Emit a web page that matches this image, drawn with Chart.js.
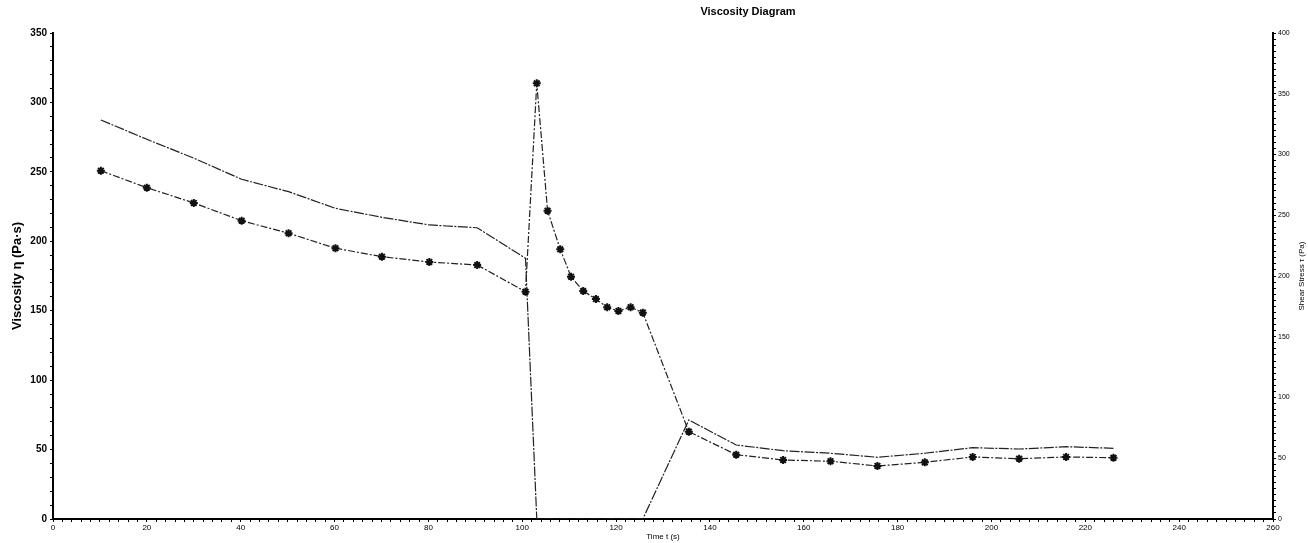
<!DOCTYPE html>
<html>
<head>
<meta charset="utf-8">
<script src="https://cdn.jsdelivr.net/npm/chart.js@4/dist/chart.umd.min.js"></script>
<style>
  html, body { margin: 0; padding: 0; background: #fff; }
  #wrap { width: 1308px; height: 543px; position: relative; }
</style>
</head>
<body>
<div id="wrap"><canvas id="viscosityChart"></canvas></div>
<script>
// values
const timeS = [10.2, 20, 30, 40.2, 50.2, 60.2, 70.1, 80.2, 90.4, 100.7,
  103.1, 105.4, 108.1, 110.4, 113, 115.7, 118.1, 120.5, 123.1, 125.7,
  135.5, 145.6, 155.6, 165.7, 175.7, 185.8, 196, 205.9, 215.9, 226];
const viscosity = [250.8, 238.6, 227.6, 214.8, 205.8, 195, 188.9, 185.1, 182.9, 163.7,
  313.8, 222, 194.2, 174.5, 164.2, 158.4, 152.5, 149.8, 152.5, 148.6,
  62.9, 46.3, 42.5, 41.6, 38.2, 40.8, 44.7, 43.4, 44.7, 44.1];
const shearStress = [328.4, 312.5, 297, 279.6, 269.4, 255.7, 248.3, 242, 239.7, 214.6,
  0, 0, 0, 0, 0, 0, 0, 0, 0, 0,
  81.5, 60.9, 56.2, 54.1, 50.8, 54.1, 58.7, 57.6, 59.5, 58.2];

const chartTitle = "Viscosity Diagram";
const leftTitle = "Viscosity \u03b7 (Pa\u00b7s)";
const rightTitle = "Shear Stress \u03c4 (Pa)";
const xTitle = "Time t (s)";

function toPoints(xs, ys) {
  return xs.map(function (x, i) { return { x: x, y: ys[i] }; });
}

// title is off-centre in the original and the right axis label reads upward
const extraText = {
  id: "extraText",
  afterDraw: function (chart) {
    const ctx = chart.ctx;
    ctx.save();
    ctx.fillStyle = "#000";
    ctx.font = "bold 11px 'Liberation Sans', Arial, sans-serif";
    ctx.textAlign = "center";
    ctx.textBaseline = "middle";
    ctx.fillText(chartTitle, 748, 12);

    const area = chart.chartArea;
    ctx.translate(1302, (area.top + area.bottom) / 2);
    ctx.rotate(-Math.PI / 2);
    ctx.font = "8px 'Liberation Sans', Arial, sans-serif";
    ctx.fillText(rightTitle, 0, 0);
    ctx.restore();
  },
};

const ctx = document.getElementById("viscosityChart").getContext("2d");
const viscosityChart = new Chart(ctx, {
  type: "line",
  data: {
    datasets: [
      {
        label: "Viscosity",
        data: toPoints(timeS, viscosity),
        yAxisID: "y",
        borderColor: "#222",
        borderWidth: 1.2,
        borderDash: [7, 2, 2, 2],
        pointStyle: "star",
        pointRadius: 4,
        pointBorderWidth: 2,
        pointBorderColor: "#111",
        pointBackgroundColor: "#111",
        fill: false,
        tension: 0,
      },
      {
        label: "Shear Stress",
        data: toPoints(timeS, shearStress),
        yAxisID: "y1",
        borderColor: "#222",
        borderWidth: 1.2,
        borderDash: [10, 1.5, 2, 1.5],
        pointRadius: 0,
        fill: false,
        tension: 0,
      },
    ],
  },
  options: {
    responsive: true,
    maintainAspectRatio: false,
    animation: false,
    layout: { padding: { top: 33, left: 0, right: 0, bottom: 0 } },
    plugins: {
      legend: { display: false },
      tooltip: { enabled: false },
      title: { display: false },
    },
    scales: {
      x: {
        type: "linear",
        min: 0,
        max: 260,
        afterFit: function (scale) { scale.height = 24; },
        border: { display: true, color: "#000", width: 2 },
        grid: { drawOnChartArea: false, drawTicks: true, tickLength: 3, color: "#000", tickWidth: 1 },
        ticks: {
          stepSize: 2,
          autoSkip: false,
          maxRotation: 0,
          padding: 1,
          color: "#000",
          font: { size: 8, family: "'Liberation Sans', Arial, sans-serif" },
          callback: function (v) { return v % 20 === 0 ? String(v) : ""; },
        },
        title: {
          display: true,
          text: xTitle,
          color: "#000",
          padding: { top: 0, bottom: 1 },
          font: { size: 8, family: "'Liberation Sans', Arial, sans-serif" },
        },
      },
      y: {
        type: "linear",
        position: "left",
        min: 0,
        max: 350,
        afterFit: function (scale) { scale.width = 53; },
        border: { display: true, color: "#000", width: 2 },
        grid: { drawOnChartArea: false, drawTicks: true, tickLength: 3, color: "#000" },
        ticks: {
          stepSize: 10,
          autoSkip: false,
          padding: 3,
          color: "#000",
          font: { size: 10, weight: "bold", family: "'Liberation Sans', Arial, sans-serif" },
          callback: function (v) { return v % 50 === 0 ? String(v) : ""; },
        },
        title: {
          display: true,
          text: leftTitle,
          color: "#000",
          padding: { top: 10, bottom: 0 },
          font: { size: 13, weight: "bold", family: "'Liberation Sans', Arial, sans-serif" },
        },
      },
      y1: {
        type: "linear",
        position: "right",
        min: 0,
        max: 400,
        afterFit: function (scale) { scale.width = 35; },
        border: { display: true, color: "#000", width: 2 },
        grid: { drawOnChartArea: false, drawTicks: true, tickLength: 3, color: "#000" },
        ticks: {
          stepSize: 5,
          autoSkip: false,
          padding: 2,
          color: "#000",
          font: { size: 7, family: "'Liberation Sans', Arial, sans-serif" },
          callback: function (v) { return v % 50 === 0 ? String(v) : ""; },
        },
      },
    },
  },
  plugins: [extraText],
});
</script>
</body>
</html>
